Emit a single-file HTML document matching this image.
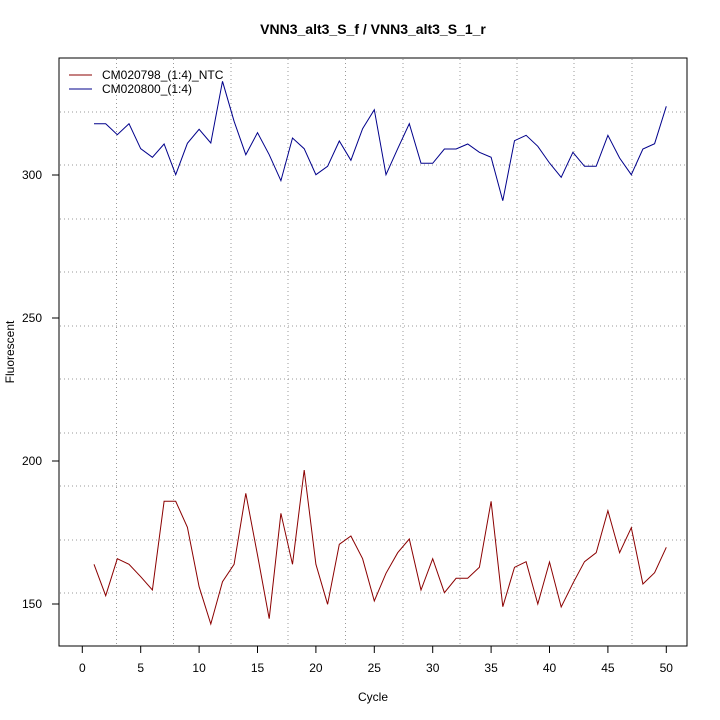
<!DOCTYPE html>
<html><head><meta charset="utf-8"><style>body{margin:0;background:#fff}svg{display:block}text{font-family:"Liberation Sans",sans-serif}</style></head><body>
<svg id="s" width="720" height="720" xmlns="http://www.w3.org/2000/svg">
<rect width="720" height="720" fill="#fff"/>
<g id="grid" stroke="#999" stroke-width="1" stroke-dasharray="1,3" fill="none"></g>
<rect x="59" y="58" width="628" height="588" fill="none" stroke="#000" stroke-width="1"/>
<g id="ax" stroke="#000" stroke-width="1"></g>
<g id="lab" font-size="12" fill="#000" text-anchor="middle"></g>
<text x="373" y="34" font-size="14" font-weight="bold" text-anchor="middle">VNN3_alt3_S_f / VNN3_alt3_S_1_r</text>
<text x="373" y="701" font-size="12" text-anchor="middle">Cycle</text>
<text transform="translate(14,352) rotate(-90)" font-size="12" text-anchor="middle">Fluorescent</text>
<line x1="69" y1="75" x2="92" y2="75" stroke="#8b0000"/>
<line x1="69" y1="89" x2="92" y2="89" stroke="#00008b"/>
<text x="102" y="79" font-size="12">CM020798_(1:4)_NTC</text>
<text x="102" y="93" font-size="12">CM020800_(1:4)</text>
<polyline id="red" fill="none" stroke="#8b0000" stroke-width="1"/>
<polyline id="blue" fill="none" stroke="#00008b" stroke-width="1"/>
</svg>
<script>
var NS="http://www.w3.org/2000/svg";
function el(p,t,a){var e=document.createElementNS(NS,t);for(var k in a)e.setAttribute(k,a[k]);p.appendChild(e);return e;}
var g=document.getElementById('grid');
[116.5,173.5,231,288,345.5,403,460,517,574,632].forEach(function(x){el(g,'line',{x1:x,y1:59,x2:x,y2:645});});
[112,165,219,272,326,379,433,486,540,593].forEach(function(y){el(g,'line',{x1:60,y1:y,x2:686,y2:y});});
var ax=document.getElementById('ax'),lab=document.getElementById('lab');
for(var k=0;k<=50;k+=5){var x=82.3+11.68*k;el(ax,'line',{x1:x,y1:646,x2:x,y2:653});var t=el(lab,'text',{x:x,y:672});t.textContent=k;}
[[300,175],[250,318],[200,461],[150,604]].forEach(function(v){el(ax,'line',{x1:52,y1:v[1],x2:59,y2:v[1]});var t=el(lab,'text',{x:32,y:v[1]+4});t.textContent=v[0];});
var blue=[123.7,123.7,134.7,123.7,148.7,157.3,144,174.7,143.3,129.3,143,81.3,121.3,154.7,132.7,154.7,180.7,138,148.7,174.7,166.3,141,160.3,128.7,109.7,174.7,148.7,123.7,163.3,163.3,149,149,144,152.3,157.3,200.7,140.7,135.3,146.3,163,177.3,152.3,166.3,166.3,135.3,158,174.7,149,143.7,106.3];
var red=[564.3,595.7,558.7,564.3,576.7,590,501.3,501.3,527.3,586.7,624,581.7,564.3,493.3,555,618.7,513.3,564.3,470,564.3,604.3,544.3,536,558.7,601,573.3,552.7,539,590,558.7,592.7,578.3,578.3,567.3,501.3,606.7,567.3,561.7,604,562,607,583.3,561.7,552.7,510.7,552.7,527.7,584,572.7,547.3];
function pts(a){return a.map(function(y,i){return (82.3+11.68*(i+1)).toFixed(1)+","+y;}).join(" ");}
document.getElementById('blue').setAttribute('points',pts(blue));
document.getElementById('red').setAttribute('points',pts(red));
</script>
</body></html>
